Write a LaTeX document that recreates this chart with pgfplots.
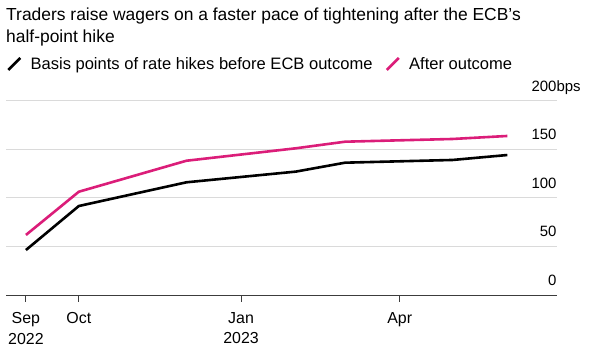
\documentclass[border=0pt]{standalone}
\usepackage{fontspec}
\setmainfont{Liberation Sans}
\usepackage{pgfplots}
\pgfplotsset{compat=1.18}
\definecolor{mag}{RGB}{219,29,121}
\definecolor{gridc}{RGB}{218,218,218}
\definecolor{axc}{RGB}{60,60,60}
\begin{document}
\begin{tikzpicture}[x=1bp,y=1bp]
\useasboundingbox (0,0) rectangle (595,351);
\node[anchor=base west, inner sep=0pt, font=\fontsize{17.5}{21}\selectfont] at (6,330.3) {Traders raise wagers on a faster pace of tightening after the ECB's};
\node[anchor=base west, inner sep=0pt, font=\fontsize{17.5}{21}\selectfont] at (6,308.7) {half-point hike};
\begin{axis}[
 at={(6bp,56bp)}, anchor=south west, scale only axis,
 width=550.7bp, height=194.3bp,
 xmin=-11.3, xmax=301, ymin=0, ymax=200,
 axis x line*=bottom, axis y line*=right,
 y axis line style={draw=none},
 x axis line style={draw=axc, line width=0.9bp},
 xtick={0,30,122,212},
 xticklabels={Sep\\2022,Oct,Jan\\2023,Apr},
 xtick align=outside, ytick align=inside,
 major tick length=6.7bp,
 xtick style={draw=axc, line width=0.9bp},
 ytick style={draw=none},
 xticklabel style={align=center, anchor=north, inner sep=0pt, yshift=-10.5bp, font=\fontsize{16}{20.7}\selectfont},
 ytick={0,50,100,150,200},
 yticklabels={0,50,100,150,200\rlap{bps}},
 yticklabel style={anchor=base east, inner sep=0pt, yshift=9.5bp, font=\fontsize{15}{18}\selectfont},
 ymajorgrids, grid style={gridc, line width=0.9bp},
 legend columns=2,
 legend style={at={(0.0018,1.189)}, anchor=west, draw=none, fill=none, inner sep=0pt, outer sep=0pt,
   column sep=9bp, font=\fontsize{16.6}{19}\selectfont,
   nodes={inner sep=0pt},
   /tikz/every even column/.append style={column sep=13bp}},
 legend image code/.code={\draw[#1, line width=2.6bp] (0bp,-6bp) -- (12bp,6bp);},
]
\addplot[black, line width=2.6bp, line join=round] coordinates {
 (0,46.3) (30,91.6) (91,116) (153,127) (181,136.2) (242,139) (273,144.1)};
\addlegendentry{Basis points of rate hikes before ECB outcome}
\addplot[mag, line width=2.6bp, line join=round] coordinates {
 (0,61.8) (30,106.3) (91,138.2) (153,151) (181,157.8) (242,160.6) (273,163.7)};
\addlegendentry{After outcome}
\end{axis}
\end{tikzpicture}
\end{document}
